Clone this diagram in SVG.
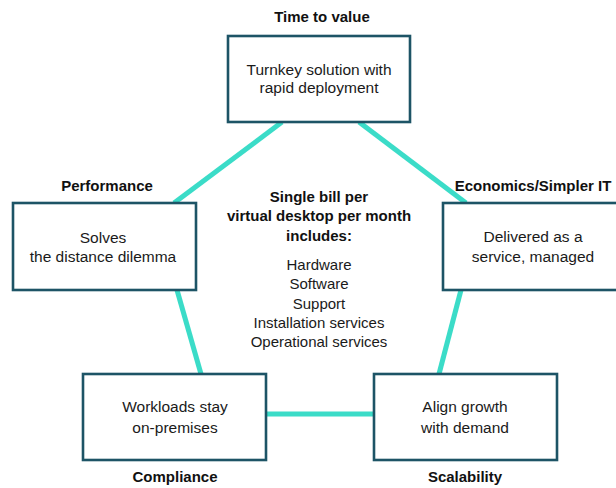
<svg xmlns="http://www.w3.org/2000/svg" width="616" height="488" viewBox="0 0 616 488">
<style>
.box{fill:#ffffff;stroke:#1d5466;stroke-width:2.6}
.con{stroke:#3bdcc8;stroke-width:5;fill:none}
.t{font-family:"Liberation Sans",Arial,sans-serif;font-size:15.5px;fill:#1a1a1a;text-anchor:middle}
.c{font-family:"Liberation Sans",Arial,sans-serif;font-size:15px;fill:#1a1a1a;text-anchor:middle}
.b{font-family:"Liberation Sans",Arial,sans-serif;font-size:15px;font-weight:bold;fill:#111111;text-anchor:middle}
</style>
<rect width="616" height="488" fill="#ffffff"/>
<g id="connectors">
<line class="con" x1="282" y1="122" x2="174" y2="203"/>
<line class="con" x1="359" y1="122" x2="466" y2="203"/>
<line class="con" x1="177" y1="290" x2="201" y2="374"/>
<line class="con" x1="461" y1="290" x2="439" y2="374"/>
<line class="con" x1="266" y1="414" x2="374" y2="414"/>
</g>
<g id="node-time">
<rect class="box" x="228" y="36" width="182" height="86"/>
<text class="t" x="319" y="75">Turnkey solution with</text>
<text class="t" x="319" y="93">rapid deployment</text>
<text class="b" x="322" y="22">Time to value</text>
</g>
<g id="node-performance">
<rect class="box" x="13" y="203" width="183" height="87"/>
<text class="t" x="103" y="243">Solves</text>
<text class="t" x="103" y="262">the distance dilemma</text>
<text class="b" x="107" y="191">Performance</text>
</g>
<g id="node-economics">
<rect class="box" x="443" y="203" width="185" height="87"/>
<text class="t" x="533" y="242">Delivered as a</text>
<text class="t" x="533" y="262">service, managed</text>
<text class="b" x="533" y="191">Economics/Simpler IT</text>
</g>
<g id="node-compliance">
<rect class="box" x="83" y="374" width="183" height="86"/>
<text class="t" x="175" y="412">Workloads stay</text>
<text class="t" x="175" y="433">on-premises</text>
<text class="b" x="175" y="482">Compliance</text>
</g>
<g id="node-scalability">
<rect class="box" x="374" y="374" width="183" height="86"/>
<text class="t" x="465" y="412">Align growth</text>
<text class="t" x="465" y="433">with demand</text>
<text class="b" x="465" y="482">Scalability</text>
</g>
<g id="center">
<text class="b" x="319" y="202">Single bill per</text>
<text class="b" x="319" y="221">virtual desktop per month</text>
<text class="b" x="319" y="241">includes:</text>
<text class="c" x="319" y="270">Hardware</text>
<text class="c" x="319" y="289">Software</text>
<text class="c" x="319" y="309">Support</text>
<text class="c" x="319" y="328">Installation services</text>
<text class="c" x="319" y="347">Operational services</text>
</g>
</svg>
